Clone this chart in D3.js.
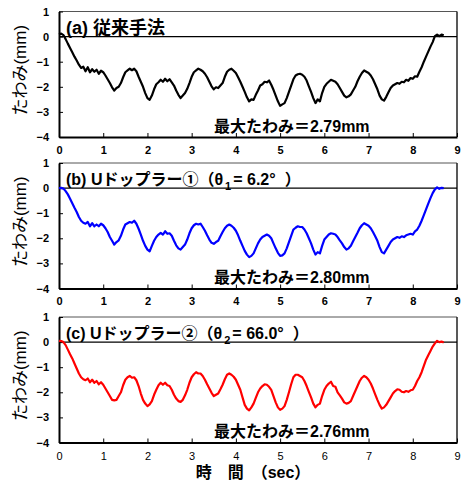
<!DOCTYPE html>
<html><head><meta charset="utf-8">
<script src="https://cdn.jsdelivr.net/npm/d3@7"></script>
<style>body{margin:0;background:#fff}svg{display:block}text{font-family:Arial,"Liberation Sans","Noto Sans CJK JP",sans-serif}</style>
</head><body><svg id="c" width="462" height="482"></svg>
<script>
const sampleStep = 0.05;
const xTicks = [0,1,2,3,4,5,6,7,8,9];
const yTicks = [1,0,-1,-2,-3,-4];
const yTickLabels = ["1","0","\u22121","\u22122","\u22123","\u22124"];
const panelTitles = ["(a) 従来手法", "(b) Uドップラー①（θ", "(c) Uドップラー②（θ"];
const maxLabels = ["最大たわみ＝2.79mm","最大たわみ＝2.80mm","最大たわみ＝2.76mm"];
const seriesColors = ["#000000","#0000ff","#ff0000"];

const seriesA = [0.08,0.12,0.06,-0.10,-0.28,-0.45,-0.62,-0.80,-0.95,-1.12,-1.25,-1.20,-1.38,-1.22,-1.42,-1.30,-1.40,-1.32,-1.48,-1.36,
-1.42,-1.55,-1.70,-1.85,-2.02,-2.15,-2.05,-2.00,-1.85,-1.62,-1.42,-1.35,-1.28,-1.34,-1.28,-1.38,-1.60,-1.80,-2.00,-2.25,
-2.45,-2.52,-2.35,-2.10,-1.90,-1.82,-1.72,-1.80,-1.68,-1.78,-1.70,-1.82,-1.95,-2.15,-2.32,-2.45,-2.35,-2.25,-2.08,-1.85,
-1.60,-1.42,-1.35,-1.28,-1.32,-1.38,-1.48,-1.62,-1.80,-1.98,-2.10,-2.02,-2.05,-1.95,-1.85,-1.60,-1.40,-1.32,-1.28,-1.36,
-1.45,-1.62,-1.80,-2.00,-2.20,-2.42,-2.58,-2.50,-2.52,-2.32,-2.15,-1.95,-1.90,-1.80,-1.82,-1.75,-1.92,-2.12,-2.35,-2.58,
-2.76,-2.70,-2.65,-2.45,-2.20,-1.95,-1.70,-1.55,-1.50,-1.48,-1.52,-1.60,-1.75,-1.98,-2.20,-2.45,-2.65,-2.50,-2.58,-2.25,
-2.00,-1.88,-1.80,-1.72,-1.76,-1.80,-1.90,-2.05,-2.20,-2.35,-2.42,-2.38,-2.30,-2.15,-2.00,-1.78,-1.60,-1.45,-1.35,-1.40,
-1.45,-1.55,-1.70,-1.90,-2.10,-2.35,-2.50,-2.55,-2.40,-2.22,-2.05,-1.95,-1.90,-1.85,-1.88,-1.80,-1.82,-1.72,-1.76,-1.65,
-1.68,-1.58,-1.60,-1.40,-1.22,-1.00,-0.80,-0.60,-0.40,-0.22,0.02,0.08,0.02,0.08,0.05];

const seriesB = [0.00,0.01,-0.02,-0.12,-0.25,-0.42,-0.60,-0.78,-0.95,-1.15,-1.30,-1.38,-1.42,-1.35,-1.52,-1.40,-1.52,-1.45,-1.52,-1.42,
-1.48,-1.60,-1.75,-1.95,-2.10,-2.25,-2.15,-2.08,-1.90,-1.65,-1.45,-1.40,-1.35,-1.38,-1.30,-1.42,-1.62,-1.85,-2.10,-2.30,
-2.45,-2.52,-2.30,-2.10,-1.95,-1.85,-1.78,-1.85,-1.72,-1.82,-1.80,-1.90,-2.10,-2.28,-2.40,-2.45,-2.35,-2.25,-2.05,-1.80,
-1.60,-1.48,-1.42,-1.45,-1.42,-1.55,-1.70,-1.88,-2.05,-2.18,-2.22,-2.15,-2.10,-1.92,-1.75,-1.60,-1.50,-1.45,-1.50,-1.58,
-1.70,-1.88,-2.10,-2.30,-2.50,-2.65,-2.75,-2.70,-2.60,-2.40,-2.20,-2.05,-1.95,-1.90,-1.85,-1.90,-2.00,-2.20,-2.40,-2.58,
-2.70,-2.68,-2.60,-2.40,-2.15,-1.90,-1.65,-1.58,-1.52,-1.55,-1.55,-1.65,-1.80,-2.00,-2.20,-2.45,-2.65,-2.55,-2.60,-2.30,
-2.05,-1.95,-1.85,-1.80,-1.82,-1.85,-1.95,-2.08,-2.20,-2.35,-2.45,-2.40,-2.30,-2.12,-1.95,-1.78,-1.60,-1.48,-1.40,-1.45,
-1.50,-1.60,-1.75,-1.92,-2.10,-2.35,-2.55,-2.60,-2.45,-2.30,-2.15,-2.05,-2.00,-1.95,-1.98,-1.92,-1.95,-1.88,-1.85,-1.82,
-1.85,-1.72,-1.65,-1.50,-1.30,-1.08,-0.85,-0.62,-0.40,-0.20,-0.05,0.03,-0.03,0.01,0.00];

const seriesC = [0.05,0.04,0.00,-0.12,-0.30,-0.48,-0.65,-0.85,-1.05,-1.25,-1.40,-1.48,-1.52,-1.45,-1.60,-1.50,-1.62,-1.55,-1.68,-1.60,
-1.70,-1.85,-2.00,-2.15,-2.30,-2.32,-2.30,-2.15,-2.00,-1.72,-1.50,-1.40,-1.35,-1.42,-1.40,-1.52,-1.75,-2.05,-2.30,-2.45,
-2.55,-2.48,-2.35,-2.10,-1.90,-1.72,-1.62,-1.70,-1.62,-1.72,-1.75,-1.90,-2.10,-2.25,-2.35,-2.38,-2.30,-2.12,-1.90,-1.62,
-1.40,-1.28,-1.20,-1.25,-1.25,-1.35,-1.50,-1.68,-1.85,-2.02,-2.15,-2.10,-2.05,-1.88,-1.70,-1.48,-1.30,-1.25,-1.30,-1.38,
-1.50,-1.70,-1.90,-2.20,-2.50,-2.65,-2.72,-2.60,-2.45,-2.22,-2.00,-1.85,-1.75,-1.68,-1.70,-1.78,-1.90,-2.15,-2.40,-2.60,
-2.70,-2.65,-2.55,-2.30,-2.00,-1.68,-1.40,-1.30,-1.30,-1.35,-1.40,-1.55,-1.75,-1.98,-2.20,-2.45,-2.60,-2.50,-2.45,-2.15,
-1.90,-1.75,-1.65,-1.58,-1.75,-1.78,-2.00,-2.12,-2.25,-2.40,-2.45,-2.42,-2.35,-2.15,-1.95,-1.75,-1.55,-1.42,-1.35,-1.40,
-1.50,-1.65,-1.85,-2.08,-2.30,-2.50,-2.65,-2.60,-2.50,-2.35,-2.20,-2.05,-1.95,-1.88,-1.90,-1.98,-2.00,-1.95,-1.98,-1.92,
-1.90,-1.75,-1.55,-1.40,-1.20,-0.95,-0.70,-0.52,-0.35,-0.18,-0.05,0.05,0.00,0.02,-0.02];

const allSeries = [seriesA, seriesB, seriesC];
const subscripts = [null, "1", "2"];
const thetaValues = [null, "= 6.2°", "= 66.0°"];

const svg = d3.select("#c");
const left = 59, right = 457;
const panelTops = [11.5, 163, 317];
const panelH = 125.5;
const x = d3.scaleLinear().domain([0,9]).range([left,right]);
const cjk = '"Noto Sans CJK JP",sans-serif';
const titleSizes = [18, 16, 16];

allSeries.forEach((vals, i) => {
  const top = panelTops[i];
  const y = d3.scaleLinear().domain([1,-4]).range([top, top+panelH]);
  const g = svg.append("g");
  g.append("line").attr("x1",left).attr("x2",right).attr("y1",top).attr("y2",top).attr("stroke","#555").attr("stroke-width",1);
  g.append("line").attr("x1",right).attr("x2",right).attr("y1",top).attr("y2",top+panelH).attr("stroke","#222").attr("stroke-width",1.5);
  const xa = g.append("g").attr("transform",`translate(0,${top+panelH})`)
    .call(d3.axisBottom(x).tickValues(xTicks).tickSizeInner(-4).tickSizeOuter(0).tickPadding(i<2?9:10));
  xa.select(".domain").attr("stroke-width",2);
  xa.selectAll("text").attr("font-size",11).attr("font-weight", i<2?"bold":"normal").attr("font-family","Arial,'Liberation Sans',sans-serif");
  const ya = g.append("g").attr("transform",`translate(${left},0)`)
    .call(d3.axisLeft(y).tickValues(yTicks).tickFormat((d,k)=>yTickLabels[k]).tickSizeInner(-4).tickSizeOuter(0).tickPadding(10));
  ya.select(".domain").attr("stroke-width",2);
  ya.selectAll("text").attr("font-size",11).attr("font-weight","bold").attr("font-family","Arial,'Liberation Sans',sans-serif");
  g.append("line").attr("x1",left).attr("x2",right).attr("y1",y(0)).attr("y2",y(0)).attr("stroke","#000").attr("stroke-width",1.2);
  const line = d3.line().x((d,k)=>x(k*sampleStep)).y(d=>y(d));
  g.append("path").datum(vals).attr("d",line).attr("fill","none").attr("stroke",seriesColors[i]).attr("stroke-width",2.2).attr("stroke-linejoin","round");
  const t = g.append("text").attr("x",66).attr("y",top+22).attr("font-size",titleSizes[i]).attr("font-weight","bold").attr("font-family",cjk).text(panelTitles[i]);
  if (subscripts[i]) {
    t.append("tspan").attr("font-size",11).attr("dx",2).attr("dy",5).text(subscripts[i]);
    t.append("tspan").attr("dx",2).attr("dy",-5).text(thetaValues[i]);
    t.append("tspan").attr("dx",9).text("）");
  }
  g.append("text").attr("x",214).attr("y",top+120).attr("font-size",16).attr("font-weight","bold").attr("font-family",cjk).text(maxLabels[i]);
  g.append("text").attr("transform",`translate(26,${top+panelH/2-4}) rotate(-90)`).attr("text-anchor","middle")
    .attr("font-size",17).attr("font-family",cjk).text("たわみ(mm)");
});
svg.append("text").attr("x",253).attr("y",478).attr("text-anchor","middle").attr("font-size",16).attr("font-weight","bold")
  .attr("font-family",cjk).text("時\u3000間\u3000（sec）");
</script></body></html>
